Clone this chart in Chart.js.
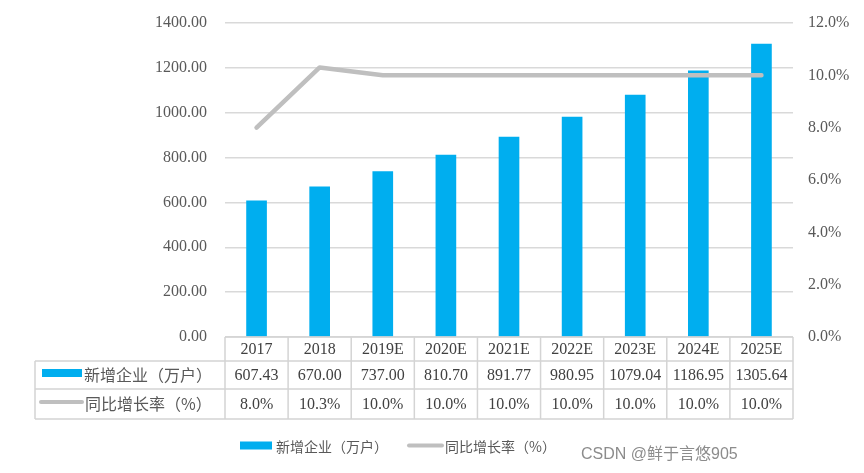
<!DOCTYPE html>
<html><head><meta charset="utf-8">
<script src="https://cdn.jsdelivr.net/npm/chart.js@4.4.0/dist/chart.umd.min.js"></script>
<style>html,body{margin:0;padding:0;background:#fff}#wrap{width:864px;height:473px;position:relative}</style>
</head><body><div id="wrap"><canvas id="c"></canvas></div>
<script>
const categories = ['2017','2018','2019E','2020E','2021E','2022E','2023E','2024E','2025E'];
const newEnterprises = [607.43, 670.00, 737.00, 810.70, 891.77, 980.95, 1079.04, 1186.95, 1305.64];
const growthRate = [8.0, 10.3, 10.0, 10.0, 10.0, 10.0, 10.0, 10.0, 10.0];
const barLabel = '新增企业（万户）';
const lineLabel = '同比增长率（%）';
const watermark = 'CSDN @鲜于言悠905';

const BAR_COLOR = '#00AEEF';
const LINE_COLOR = '#BFBFBF';
const GRID = '#D9D9D9';
const TXT = '#595959';
const SERIF = "'Liberation Serif','DejaVu Serif',serif";
const CJK = "'Noto Sans CJK SC','Noto Sans',sans-serif";

const tablePlugin = {
  id: 'dataTable',
  afterDraw(chart) {
    const {ctx, chartArea: a, scales: {x}} = chart;
    const n = categories.length;
    const colW = (a.right - a.left) / n;
    const top = a.bottom, r1 = top + 24, r2 = r1 + 28, r3 = r2 + 30;
    const leftX = 35;
    ctx.save();
    ctx.strokeStyle = '#D4D4D4';
    ctx.lineWidth = 1.5;
    ctx.beginPath();
    ctx.moveTo(a.left, top); ctx.lineTo(a.right, top);
    [r1, r2, r3].forEach(y => { ctx.moveTo(leftX, y); ctx.lineTo(a.right, y); });
    for (let k = 0; k <= n; k++) {
      const xx = a.left + k * colW;
      ctx.moveTo(xx, top); ctx.lineTo(xx, r3);
    }
    ctx.moveTo(leftX, r1); ctx.lineTo(leftX, r3);
    ctx.stroke();

    ctx.fillStyle = '#404040';
    ctx.textAlign = 'center';
    ctx.textBaseline = 'middle';
    ctx.font = '16px ' + SERIF;
    categories.forEach((c, i) => {
      const cx = x.getPixelForValue(i);
      ctx.fillText(c, cx, top + 12.5);
      ctx.fillText(newEnterprises[i].toFixed(2), cx, r1 + 14.5);
      ctx.fillText(growthRate[i].toFixed(1) + '%', cx, r2 + 15.5);
    });

    // row keys
    ctx.fillStyle = BAR_COLOR;
    ctx.fillRect(42, r1 + 8, 40, 8);
    ctx.strokeStyle = LINE_COLOR;
    ctx.lineWidth = 4;
    ctx.lineCap = 'round';
    ctx.beginPath();
    ctx.moveTo(41, r2 + 13); ctx.lineTo(82, r2 + 13);
    ctx.stroke();
    ctx.fillStyle = TXT;
    ctx.textAlign = 'left';
    ctx.font = '16px ' + CJK;
    ctx.fillText(barLabel, 84, r1 + 14);
    ctx.fillText(lineLabel, 85, r2 + 15);

    // bottom legend
    const ly = 445.5;
    ctx.fillStyle = BAR_COLOR;
    ctx.fillRect(240, ly - 4, 32, 8);
    ctx.beginPath();
    ctx.moveTo(409, ly); ctx.lineTo(442, ly);
    ctx.stroke();
    ctx.fillStyle = TXT;
    ctx.font = '14px ' + CJK;
    ctx.fillText(barLabel, 276, ly + 1);
    ctx.fillText(lineLabel, 445, ly + 1);

    // watermark
    ctx.fillStyle = '#8C8C8C';
    ctx.font = "16px 'Liberation Sans'," + CJK;
    ctx.fillText(watermark, 581, 455);
    ctx.restore();
  }
};

new Chart(document.getElementById('c'), {
  type: 'bar',
  data: {
    labels: categories,
    datasets: [
      {
        type: 'line', label: lineLabel, data: growthRate, yAxisID: 'y1',
        borderColor: LINE_COLOR, backgroundColor: LINE_COLOR, borderWidth: 4.5,
        pointRadius: 0, tension: 0, borderCapStyle: 'round', borderJoinStyle: 'round', order: 0
      },
      {
        type: 'bar', label: barLabel, data: newEnterprises, yAxisID: 'y',
        backgroundColor: BAR_COLOR, barThickness: 20, order: 1
      }
    ]
  },
  options: {
    responsive: true, maintainAspectRatio: false, animation: false,
    layout: {autoPadding: false, padding: {top: 23, left: 0, right: 0, bottom: 0}},
    plugins: {legend: {display: false}, tooltip: {enabled: false}},
    scales: {
      x: {
        offset: true,
        ticks: {display: false},
        grid: {display: false},
        border: {display: false},
        afterFit(s) { s.height = 136; }
      },
      y: {
        position: 'left', min: 0, max: 1400,
        ticks: {stepSize: 200, padding: 18, color: TXT, font: {family: SERIF, size: 16},
          callback: v => Number(v).toFixed(2)},
        grid: {color: GRID, lineWidth: 1.5, drawTicks: false},
        border: {display: false},
        afterFit(s) { s.width = 225; s.paddingTop = 0; s.paddingBottom = 0; }
      },
      y1: {
        position: 'right', min: 0, max: 12,
        ticks: {stepSize: 2, padding: 15, color: TXT, font: {family: SERIF, size: 16},
          callback: v => Number(v).toFixed(1) + '%'},
        grid: {display: false, drawTicks: false},
        border: {display: false},
        afterFit(s) { s.width = 71; s.paddingTop = 0; s.paddingBottom = 0; }
      }
    }
  },
  plugins: [tablePlugin]
});
</script>
</body></html>
